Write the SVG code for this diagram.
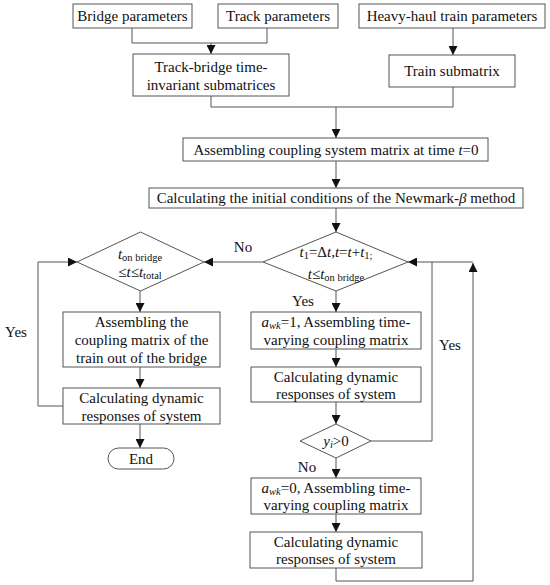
<svg xmlns="http://www.w3.org/2000/svg" width="550" height="585" viewBox="0 0 550 585" font-family="'Liberation Serif', 'DejaVu Serif', serif">
<style>
.b{fill:#fff;stroke:#555;stroke-width:1}
.c{fill:none;stroke:#555;stroke-width:1}
text{font-family:'Liberation Serif','DejaVu Serif',serif;font-size:15px;fill:#111;text-anchor:middle}
.i{font-style:italic}
.s{font-size:10.5px}
</style>
<defs>
<marker id="a" viewBox="0 0 10 10" refX="10" refY="5" markerWidth="9" markerHeight="9" markerUnits="userSpaceOnUse" orient="auto"><path d="M0,0L10,5L0,10z" fill="#111"/></marker>
</defs>
<rect width="550" height="585" fill="#fff"/>
<g id="connectors">
<path class="c" d="M132,28V43H267V28"/>
<path class="c" d="M211,43V54" marker-end="url(#a)"/>
<path class="c" d="M453,28V55" marker-end="url(#a)"/>
<path class="c" d="M211,96V107H453V87"/>
<path class="c" d="M336,107V138" marker-end="url(#a)"/>
<path class="c" d="M336,161V188" marker-end="url(#a)"/>
<path class="c" d="M336,208V232" marker-end="url(#a)"/>
<path class="c" d="M263,262H204" marker-end="url(#a)"/>
<path class="c" d="M140,291V312" marker-end="url(#a)"/>
<path class="c" d="M140,367V388" marker-end="url(#a)"/>
<path class="c" d="M63,406H38V262H77" marker-end="url(#a)"/>
<path class="c" d="M140,424V448" marker-end="url(#a)"/>
<path class="c" d="M336,291V312" marker-end="url(#a)"/>
<path class="c" d="M336,349V367" marker-end="url(#a)"/>
<path class="c" d="M336,402V424" marker-end="url(#a)"/>
<path class="c" d="M371,441H432V262"/>
<path class="c" d="M473,262H408" marker-end="url(#a)"/>
<path class="c" d="M336,458V478" marker-end="url(#a)"/>
<path class="c" d="M336,514V532" marker-end="url(#a)"/>
<path class="c" d="M336,568V581H473V263" marker-end="url(#a)"/>
<text x="243" y="252">No</text>
<text x="303" y="306">Yes</text>
<text x="450" y="350">Yes</text>
<text x="16" y="337">Yes</text>
<text x="307" y="472">No</text>
</g>
<g id="bridge-params"><rect class="b" x="73" y="4" width="119" height="24"/><text x="132.5" y="21">Bridge parameters</text></g>
<g id="track-params"><rect class="b" x="218" y="4" width="120" height="24"/><text x="278" y="21">Track parameters</text></g>
<g id="train-params"><rect class="b" x="359" y="4" width="186" height="24"/><text x="452" y="21">Heavy-haul train parameters</text></g>
<g id="track-bridge"><rect class="b" x="133" y="54" width="156" height="42"/><text x="211" y="72">Track-bridge time-</text><text x="211" y="90">invariant submatrices</text></g>
<g id="train-sub"><rect class="b" x="389" y="55" width="126" height="32"/><text x="452" y="76">Train submatrix</text></g>
<g id="assemble0"><rect class="b" x="183" y="138" width="305" height="23"/><text x="336" y="154.5">Assembling coupling system matrix at time <tspan class="i">t</tspan>=0</text></g>
<g id="newmark"><rect class="b" x="149" y="188" width="374" height="20"/><text x="336" y="203">Calculating the initial conditions of the Newmark-<tspan class="i">β</tspan> method</text></g>
<g id="cond-main"><path class="b" d="M336,232L408,262L336,291L263,262z"/><text x="336" y="257"><tspan class="i">t</tspan><tspan class="s" dy="2">1</tspan><tspan dy="-2">=Δ</tspan><tspan class="i">t</tspan>,<tspan class="i">t</tspan>=<tspan class="i">t</tspan>+<tspan class="i">t</tspan><tspan class="s" dy="2">1;</tspan></text><text x="336" y="279"><tspan class="i">t</tspan>≤<tspan class="i">t</tspan><tspan class="s" dy="2">on bridge</tspan></text></g>
<g id="cond-left"><path class="b" d="M140.5,232L204,262L140.5,291L77,262z"/><text x="140" y="259"><tspan class="i">t</tspan><tspan class="s" dy="2">on bridge</tspan></text><text x="140" y="277">≤<tspan class="i">t</tspan>≤<tspan class="i">t</tspan><tspan class="s" dy="2">total</tspan></text></g>
<g id="assemble-out"><rect class="b" x="63" y="312" width="157" height="55"/><text x="141.5" y="327">Assembling the</text><text x="141.5" y="345">coupling matrix of the</text><text x="141.5" y="363">train out of the bridge</text></g>
<g id="calc-left"><rect class="b" x="63" y="388" width="157" height="36"/><text x="141.5" y="403">Calculating dynamic</text><text x="141.5" y="421">responses of system</text></g>
<g id="end"><rect class="b" x="108" y="448" width="66" height="21" rx="10.5"/><text x="141" y="464">End</text></g>
<g id="awk1"><rect class="b" x="251" y="312" width="170" height="37"/><text x="336" y="327"><tspan class="i">a</tspan><tspan class="s i" dy="2">wk</tspan><tspan dy="-2">=1, Assembling time-</tspan></text><text x="336" y="345">varying coupling matrix</text></g>
<g id="calc1"><rect class="b" x="251" y="367" width="170" height="35"/><text x="336" y="382">Calculating dynamic</text><text x="336" y="399">responses of system</text></g>
<g id="cond-y"><path class="b" d="M336,424L371,441L336,458L300,441z"/><text x="336" y="446"><tspan class="i">y</tspan><tspan class="s i" dy="2">i</tspan><tspan dy="-2">&gt;0</tspan></text></g>
<g id="awk0"><rect class="b" x="251" y="478" width="170" height="36"/><text x="336" y="493"><tspan class="i">a</tspan><tspan class="s i" dy="2">wk</tspan><tspan dy="-2">=0, Assembling time-</tspan></text><text x="336" y="510">varying coupling matrix</text></g>
<g id="calc2"><rect class="b" x="250" y="532" width="172" height="36"/><text x="336" y="547">Calculating dynamic</text><text x="336" y="564">responses of system</text></g>
</svg>
